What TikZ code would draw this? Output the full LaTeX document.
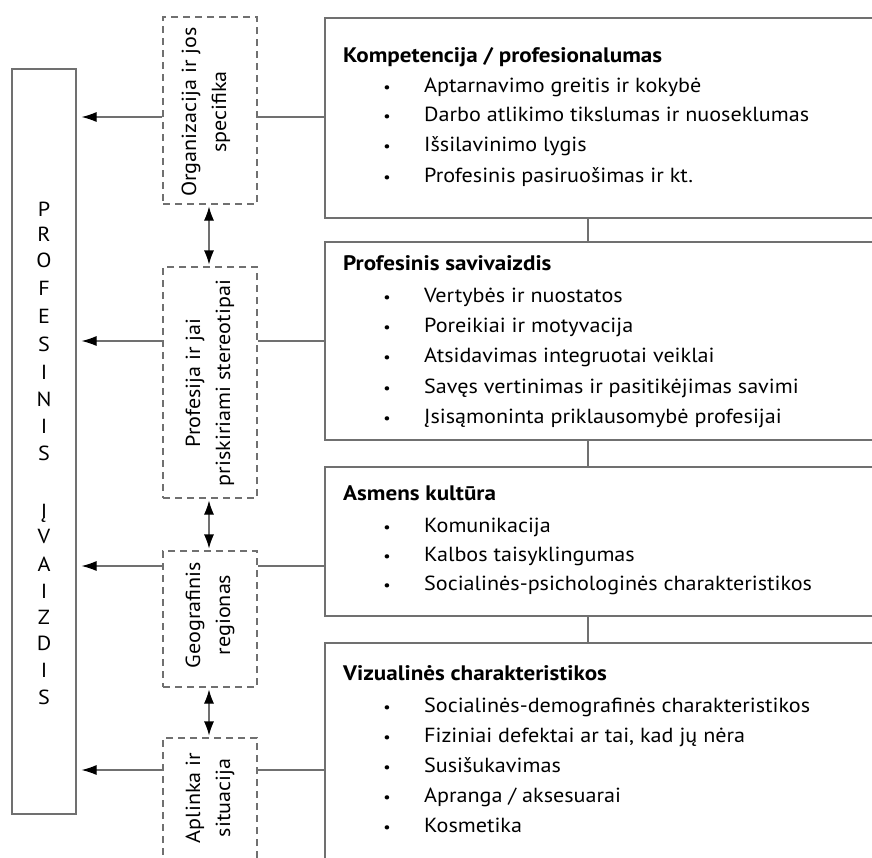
\documentclass[tikz,border=0pt]{standalone}
\usepackage{fontspec}
\setmainfont{PT Sans}[FakeStretch=1.085]
\newfontfamily\headfont[FakeStretch=1.1]{PT Sans Bold}
\usetikzlibrary{arrows.meta}
\definecolor{linegray}{HTML}{707070}
\definecolor{dashgray}{HTML}{707070}
\begin{document}
\begin{tikzpicture}[x=1pt,y=-1pt,
  solidbox/.style={draw=linegray,line width=1.1pt,rectangle,inner sep=0pt},
  dashbox/.style={draw=dashgray,line width=1.1pt,rectangle,inner sep=0pt,dash pattern=on 7pt off 5pt},
  conn/.style={draw=linegray,line width=1.1pt},
  arr/.style={conn,-{Latex[length=15pt,width=10pt,color=black]},shorten >=5pt},
  darr/.style={conn,{Latex[length=14pt,width=10pt,color=black]}-{Latex[length=14pt,width=10pt,color=black]},shorten <=2pt,shorten >=2pt},
  txt/.style={font=\fontsize{20.4}{24}\selectfont,inner sep=0pt,anchor=base west},
  head/.style={txt,font=\fontsize{21}{24}\headfont},
  bul/.style={font=\fontsize{15}{16}\selectfont,inner sep=0pt,anchor=base},
  letter/.style={font=\fontsize{20.4}{24}\selectfont,inner sep=0pt,anchor=base},
  vlab/.style={rotate=90,align=center,font=\fontsize{20.4}{30}\selectfont,inner sep=0pt}]
\useasboundingbox (0,0) rectangle (872,857);
\clip (0,0) rectangle (872,857);
% left box
\node[solidbox,minimum width=64pt,minimum height=745pt] (L) at (44,441.5) {};
\foreach \ch/\yy [count=\i] in {P/216,R/241,O/267,F/295,E/323,S/351,I/379,N/406,I/433,S/460,Į/518,V/543,A/571,I/598,Z/624,D/650,I/677,S/704}
  \node[letter] (let\i) at (44,\yy) {\ch};
% dashed boxes
\node[dashbox,minimum width=94pt,minimum height=187pt] (d1) at (210,110.5) {};
\node[dashbox,minimum width=94pt,minimum height=231pt] (d2) at (210,382.5) {};
\node[dashbox,minimum width=94pt,minimum height=136pt] (d3) at (210,619) {};
\node[dashbox,minimum width=94pt,minimum height=122pt] (d4) at (210,799) {};
\node[vlab] (t1) at (206,112) {Organizacija ir jos\\specifika};
\node[vlab] (t2) at (210,383) {Profesija ir jai\\priskiriami stereotipai};
\node[vlab] (t3) at (210,615) {Geografinis\\regionas};
\node[vlab] (t4) at (210,798) {Aplinka ir\\situacija};
% right boxes
\node[solidbox,minimum width=555pt,minimum height=200pt] (r1) at (602.5,118) {};
\node[solidbox,minimum width=555pt,minimum height=198pt] (r2) at (602.5,341) {};
\node[solidbox,minimum width=555pt,minimum height=149pt] (r3) at (602.5,541.5) {};
\node[solidbox,minimum width=555pt,minimum height=257pt] (r4) at (602.5,771.5) {};
% connector levels
\coordinate (c1) at (0,117);
\coordinate (c2) at (0,341);
\coordinate (c3) at (0,566);
\coordinate (c4) at (0,770);
\coordinate (vx) at (588,0);
\coordinate (ax) at (209,0);
\foreach \k in {1,2,3,4}{
  \draw[arr] (d\k.west |- c\k) -- (L.east |- c\k);
  \draw[conn] (d\k.east |- c\k) -- (r\k.west |- c\k);
}
\draw[conn] (r1.south -| vx) -- (r2.north -| vx);
\draw[conn] (r2.south -| vx) -- (r3.north -| vx);
\draw[conn] (r3.south -| vx) -- (r4.north -| vx);
\draw[darr] (d1.south -| ax) -- (d2.north -| ax);
\draw[darr] (d2.south -| ax) -- (d3.north -| ax);
\draw[darr] (d3.south -| ax) -- (d4.north -| ax);
% texts
\node[head] (h1) at (343,62) {Kompetencija / profesionalumas};
\foreach \s/\yy [count=\i] in {{Aptarnavimo greitis ir kokybė}/92,{Darbo atlikimo tikslumas ir nuoseklumas}/121,{Išsilavinimo lygis}/151,{Profesinis pasiruošimas ir kt.}/182}{
  \node[bul] (b1\i) at (387,\yy) {•};
  \node[txt] (i1\i) at (424,\yy) {\s};
}
\node[head] (h2) at (343,270) {Profesinis savivaizdis};
\foreach \s/\yy [count=\i] in {{Vertybės ir nuostatos}/302,{Poreikiai ir motyvacija}/332,{Atsidavimas integruotai veiklai}/362,{Savęs vertinimas ir pasitikėjimas savimi}/393,{Įsisąmoninta priklausomybė profesijai}/423}{
  \node[bul] (b2\i) at (387,\yy) {•};
  \node[txt] (i2\i) at (424,\yy) {\s};
}
\node[head] (h3) at (343,500) {Asmens kultūra};
\foreach \s/\yy [count=\i] in {{Komunikacija}/532,{Kalbos taisyklingumas}/561,{Socialinės-psichologinės charakteristikos}/590}{
  \node[bul] (b3\i) at (387,\yy) {•};
  \node[txt] (i3\i) at (424,\yy) {\s};
}
\node[head] (h4) at (343,680) {Vizualinės charakteristikos};
\foreach \s/\yy [count=\i] in {{Socialinės-demografinės charakteristikos}/712,{Fiziniai defektai ar tai, kad jų nėra}/742,{Susišukavimas}/772,{Apranga / aksesuarai}/802,{Kosmetika}/832}{
  \node[bul] (b4\i) at (387,\yy) {•};
  \node[txt] (i4\i) at (424,\yy) {\s};
}
\end{tikzpicture}
\end{document}
